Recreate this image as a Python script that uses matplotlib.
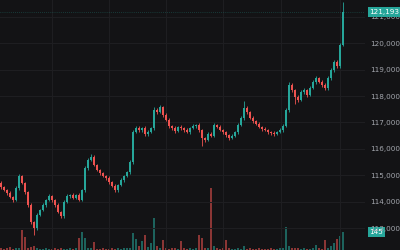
import matplotlib
matplotlib.use("Agg")
import matplotlib.pyplot as plt
import matplotlib.transforms as mtransforms
import numpy as np

# closing prices, one per candle (open = previous close)
closes = [
    114550, 114440, 114330, 114170, 114060, 114520, 114970, 114700, 114360, 113870,
    113230, 113000, 113490, 113680, 113870, 114060, 114210, 114060, 113870, 113610,
    113450, 113980, 114210, 114250, 114140, 114250, 114060, 114440, 115270, 115580,
    115690, 115390, 115200, 115080, 114970, 114890, 114740, 114590, 114440, 114630,
    114820, 114970, 115120, 115500, 116640, 116790, 116710, 116790, 116560, 116640,
    116790, 117470, 117390, 117580, 117280, 117090, 116860, 116790, 116670, 116830,
    116790, 116710, 116640, 116790, 116860, 116900, 116710, 116410, 116330, 116560,
    116500, 116900, 116830, 116710, 116640, 116520, 116410, 116490, 116640, 116900,
    117170, 117550, 117390, 117170, 117050, 116940, 116830, 116750, 116710, 116640,
    116600, 116560, 116640, 116710, 116860, 117470, 118420, 118230, 117960, 117850,
    118150, 118230, 118040, 118300, 118530, 118680, 118530, 118420, 118300, 118680,
    118990, 119290, 119140, 119930, 121193]
first_open = 114700

# wick lengths above / below the body
wick_up = [
    80, 60, 50, 70, 40, 90, 60, 50, 40, 60, 70, 50, 80, 40, 60, 50, 70, 40, 50, 60,
    40, 80, 60, 50, 70, 40, 60, 50, 90, 70, 100, 60, 50, 40, 60, 50, 70, 40, 60, 50,
    60, 40, 50, 80, 90, 60, 70, 50, 60, 80, 50, 100, 60, 90, 50, 60, 70, 40, 60, 50,
    80, 50, 60, 40, 70, 50, 60, 40, 50, 60, 70, 80, 50, 60, 40, 50, 60, 70, 50, 60,
    80, 280, 60, 50, 70, 40, 60, 50, 60, 40, 50, 60, 40, 60, 70, 90, 120, 60, 50, 80,
    70, 60, 50, 90, 60, 70, 50, 60, 80, 70, 90, 60, 80, 70, 370]
wick_dn = [
    60, 50, 70, 40, 60, 50, 70, 40, 60, 80, 90, 270, 60, 50, 40, 60, 50, 70, 60, 50,
    80, 60, 40, 70, 50, 60, 40, 50, 60, 70, 50, 60, 40, 70, 50, 60, 70, 50, 80, 60,
    50, 60, 40, 70, 60, 50, 60, 80, 70, 60, 50, 60, 70, 50, 60, 40, 70, 80, 60, 50,
    70, 60, 50, 60, 40, 60, 70, 300, 60, 50, 60, 40, 60, 50, 70, 60, 80, 50, 40, 60,
    50, 60, 70, 40, 60, 50, 60, 70, 50, 60, 70, 60, 50, 40, 60, 50, 60, 70, 270, 60,
    50, 60, 70, 50, 40, 60, 50, 60, 70, 90, 60, 70, 80, 60, 50]

volumes = [
    18, 12, 15, 24, 10, 14, 20, 160, 105, 16,
    22, 30, 14, 12, 10, 15, 12, 10, 14, 12,
    15, 12, 10, 14, 12, 16, 95, 145, 100, 20,
    14, 65, 12, 10, 14, 12, 10, 15, 12, 14,
    12, 15, 18, 20, 135, 90, 30, 75, 120, 25,
    60, 260, 30, 20, 80, 15, 12, 18, 14, 12,
    75, 14, 12, 15, 10, 18, 120, 95, 20, 16,
    500, 30, 14, 12, 16, 80, 14, 12, 10, 14,
    12, 30, 10, 14, 12, 10, 14, 12, 10, 12,
    14, 10, 12, 14, 16, 185, 30, 20, 16, 14,
    12, 14, 10, 12, 16, 40, 14, 12, 80, 20,
    30, 60, 90, 110, 145]

price_ticks = [113000, 114000, 115000, 116000, 117000, 118000, 119000, 120000, 121000]
vgrid = [17, 36, 55, 74, 93.5, 113]

BG = "#131315"
GRID = "#1f1f22"
UP = "#26a69a"
DN = "#ef5350"
TXT = "#a3a6ad"

closes = np.array(closes, dtype=float)
opens = np.concatenate([[first_open], closes[:-1]])
highs = np.maximum(opens, closes) + np.array(wick_up)
lows = np.minimum(opens, closes) - np.array(wick_dn)
idx = np.arange(len(closes))
up = closes >= opens
colors = np.where(up, UP, DN)

fig = plt.figure(figsize=(4, 2.5), dpi=100, facecolor=BG)
ax = fig.add_axes([0, 0, 365 / 400, 1])
ax.set_facecolor(BG)

# volume pane underneath
vax = ax.twinx()
vax.set_zorder(0)
ax.set_zorder(1)
ax.patch.set_visible(False)
vax.set_facecolor(BG)
vax.bar(idx, volumes, width=0.65, color=colors, alpha=0.55, linewidth=0)
vax.set_ylim(0, 2015)
vax.set_yticks([])
for s in vax.spines.values():
    s.set_visible(False)

# candles
ax.vlines(idx, lows, highs, colors=colors, linewidth=0.6)
body_h = np.abs(closes - opens)
body_h = np.maximum(body_h, 15)
ax.bar(idx, body_h, bottom=np.minimum(opens, closes), width=0.65,
       color=colors, linewidth=0)

ax.set_xlim(-1 / 3, -1 / 3 + 365 / 3)
ax.set_ylim(112167, 121637)

ax.set_yticks(price_ticks)
ax.set_yticklabels([f"{t:,}" for t in price_ticks])
ax.yaxis.tick_right()
ax.tick_params(axis="y", length=0, pad=4, labelsize=5.2, labelcolor=TXT)
ax.set_xticks([])
for s in ax.spines.values():
    s.set_visible(False)

for t in price_ticks:
    ax.axhline(t, color=GRID, linewidth=0.7, zorder=0)
for x in vgrid:
    ax.axvline(x, color=GRID, linewidth=0.7, zorder=0)

last = closes[-1]
ax.axhline(last, color=UP, linewidth=0.5, linestyle=(0, (1, 2)), alpha=0.5)

trans = mtransforms.blended_transform_factory(ax.transAxes, ax.transData)
ax.text(1.012, last, f"{int(last):,}", transform=trans, ha="left", va="center",
        fontsize=5.2, color="white", clip_on=False, zorder=10,
        bbox=dict(boxstyle="square,pad=0.25", facecolor=UP, edgecolor="none"))

vtrans = mtransforms.blended_transform_factory(vax.transAxes, vax.transData)
vax.text(1.012, volumes[-1], f"{volumes[-1]}", transform=vtrans, ha="left",
         va="center", fontsize=5.2, color="white", clip_on=False, zorder=10,
         bbox=dict(boxstyle="square,pad=0.25", facecolor=UP, edgecolor="none"))

fig.savefig("out.png", dpi=100, facecolor=BG)
